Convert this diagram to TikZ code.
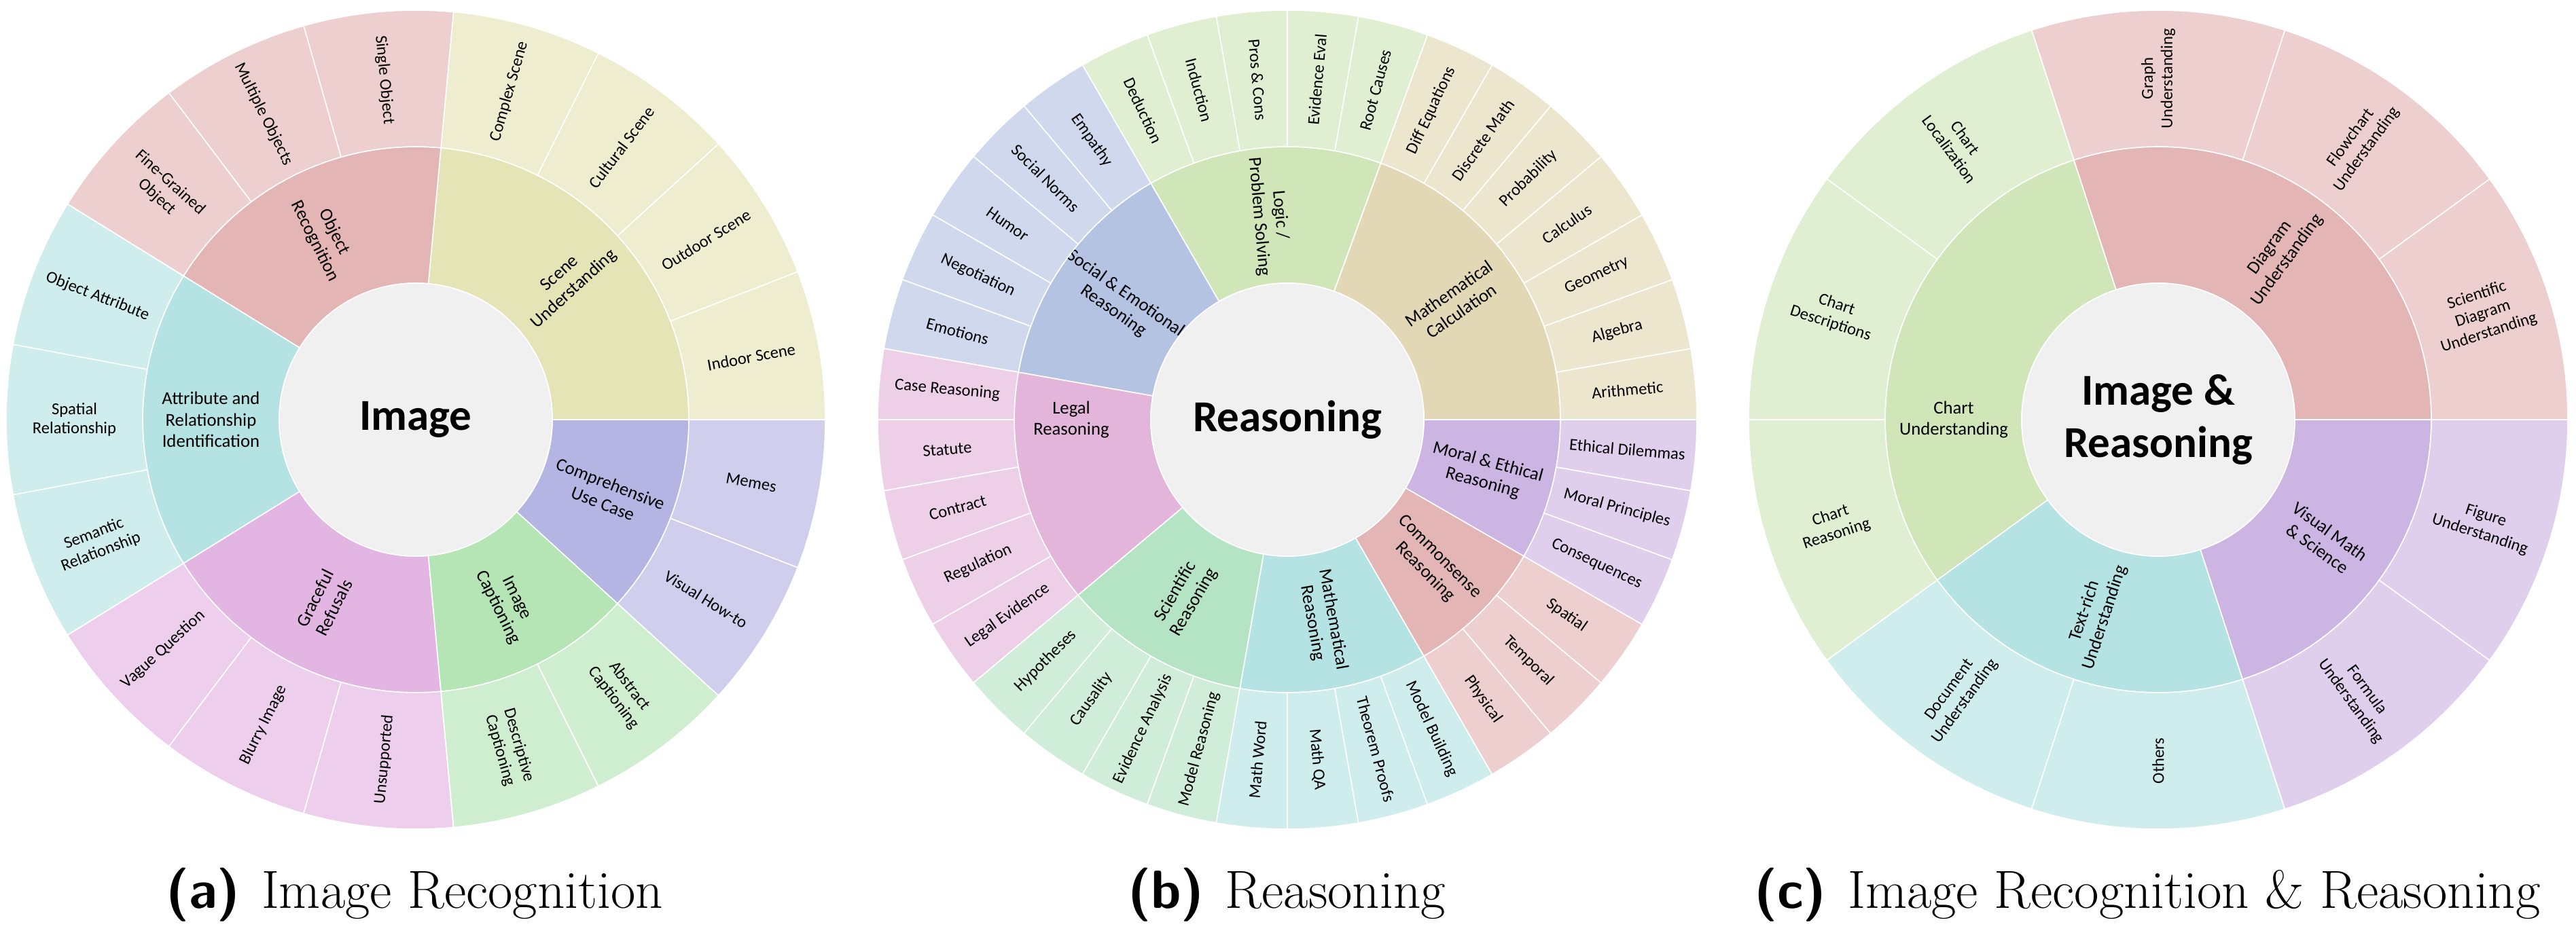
\documentclass[tikz,border=0pt]{standalone}
\usepackage{fontspec}
\usepackage{tikz}
\usepackage{xcolor}
\usetikzlibrary{positioning}
\newfontfamily\chartfont{Carlito}
\definecolor{SunCenter}{HTML}{F0F0F0}
\definecolor{ObjRose}{HTML}{E3B5B5}
\definecolor{SceneOlive}{HTML}{E5E4B7}
\definecolor{AttrTeal}{HTML}{B5E3E3}
\definecolor{RefusalOrchid}{HTML}{E3B5E3}
\definecolor{CaptionMint}{HTML}{B5E5B5}
\definecolor{UseCaseLilac}{HTML}{B5B5E3}
\definecolor{CalcSand}{HTML}{E3D8B5}
\definecolor{LogicSage}{HTML}{D0E6B8}
\definecolor{SocialBlue}{HTML}{B5C3E3}
\definecolor{LegalPink}{HTML}{E3B5DA}
\definecolor{ScienceMint}{HTML}{B5E4C5}
\definecolor{MoralViolet}{HTML}{CDB5E3}
\tikzset{
    % Sector outline
    segline/.style={
        draw=white,
        line width=0.45pt
    },
    % Label styles
    leaflabel/.style={
        font=\chartfont\fontsize{7}{8.2}\selectfont,
        align=center,
        inner sep=0pt
    },
    grouplabel/.style={
        font=\chartfont\fontsize{7.6}{8.9}\selectfont,
        align=center,
        inner sep=0pt
    },
    rootlabel/.style={
        font=\chartfont\bfseries\fontsize{18.5}{22}\selectfont,
        align=center,
        inner sep=0pt
    },
    subcaption/.style={
        font=\fontsize{22.5}{27}\selectfont,
        inner sep=0pt
    }
}
% annular sector: start, end, inner radius, outer radius, fill
\newcommand{\ringseg}[5]{%
    \filldraw[segline, fill=#5] (#1:#3) arc[start angle=#1, end angle=#2, radius=#3]
        -- (#2:#4) arc[start angle=#2, end angle=#1, radius=#4] -- cycle;}
% outer ring sector with radial label: name, start, end, colour, label
\newcommand{\leafseg}[5]{%
    \ringseg{#2}{#3}{4.02}{6.03}{#4!65!white}
    \pgfmathsetmacro{\segmid}{(#2+#3)/2}
    \pgfmathsetmacro{\segrot}{\segmid-180*(\segmid>90)-180*(\segmid>270)}
    \node[leaflabel, rotate=\segrot] (#1) at (\segmid:5.025) {#5};}
% middle ring sector with radial label: name, start, end, colour, label
\newcommand{\groupseg}[5]{%
    \ringseg{#2}{#3}{2.01}{4.02}{#4}
    \pgfmathsetmacro{\segmid}{(#2+#3)/2}
    \pgfmathsetmacro{\segrot}{\segmid-180*(\segmid>90)-180*(\segmid>270)}
    \node[grouplabel, rotate=\segrot] (#1) at (\segmid:3.015) {#5};}
\begin{document}
\begin{tikzpicture}
    \useasboundingbox (0,0) rectangle (37.92,13.73);

    % (a) Image
    \begin{scope}[shift={(6.12,7.55)}]
        \groupseg{a-scene}{0}{84.706}{SceneOlive}{Scene\\Understanding}
        \groupseg{a-objrec}{84.706}{148.235}{ObjRose}{Object\\Recognition}
        \groupseg{a-attr}{148.235}{211.765}{AttrTeal}{Attribute and\\Relationship\\Identification}
        \groupseg{a-refusal}{211.765}{275.294}{RefusalOrchid}{Graceful\\Refusals}
        \groupseg{a-caption}{275.294}{317.647}{CaptionMint}{Image\\Captioning}
        \groupseg{a-usecase}{317.647}{360}{UseCaseLilac}{Comprehensive\\Use Case}

        \leafseg{a-indoor}{0}{21.176}{SceneOlive}{Indoor Scene}
        \leafseg{a-outdoor}{21.176}{42.353}{SceneOlive}{Outdoor Scene}
        \leafseg{a-cultural}{42.353}{63.529}{SceneOlive}{Cultural Scene}
        \leafseg{a-complex}{63.529}{84.706}{SceneOlive}{Complex Scene}
        \leafseg{a-single}{84.706}{105.882}{ObjRose}{Single Object}
        \leafseg{a-multiple}{105.882}{127.059}{ObjRose}{Multiple Objects}
        \leafseg{a-finegrained}{127.059}{148.235}{ObjRose}{Fine-Grained\\Object}
        \leafseg{a-attribute}{148.235}{169.412}{AttrTeal}{Object Attribute}
        \leafseg{a-spatial}{169.412}{190.588}{AttrTeal}{Spatial\\Relationship}
        \leafseg{a-semantic}{190.588}{211.765}{AttrTeal}{Semantic\\Relationship}
        \leafseg{a-vague}{211.765}{232.941}{RefusalOrchid}{Vague Question}
        \leafseg{a-blurry}{232.941}{254.118}{RefusalOrchid}{Blurry Image}
        \leafseg{a-unsupported}{254.118}{275.294}{RefusalOrchid}{Unsupported}
        \leafseg{a-descriptive}{275.294}{296.471}{CaptionMint}{Descriptive\\Captioning}
        \leafseg{a-abstract}{296.471}{317.647}{CaptionMint}{Abstract\\Captioning}
        \leafseg{a-howto}{317.647}{338.824}{UseCaseLilac}{Visual How-to}
        \leafseg{a-memes}{338.824}{360}{UseCaseLilac}{Memes}

        \filldraw[segline, fill=SunCenter] (0,0) circle[radius=2.01];
        \node[rootlabel] (a-root) at (0,0) {Image};
    \end{scope}

    % (b) Reasoning
    \begin{scope}[shift={(18.95,7.55)}]
        \groupseg{b-calc}{0}{70}{CalcSand}{Mathematical\\Calculation}
        \groupseg{b-logic}{70}{120}{LogicSage}{Logic /\\Problem Solving}
        \groupseg{b-social}{120}{170}{SocialBlue}{Social \& Emotional\\Reasoning}
        \ringseg{170}{220}{2.01}{4.02}{LegalPink}
        \node[grouplabel] (b-legal) at (-3.18,0) {Legal\\Reasoning};
        \groupseg{b-science}{220}{260}{ScienceMint}{Scientific\\Reasoning}
        \groupseg{b-mathreas}{260}{300}{AttrTeal}{Mathematical\\Reasoning}
        \groupseg{b-common}{300}{330}{ObjRose}{Commonsense\\Reasoning}
        \groupseg{b-moral}{330}{360}{MoralViolet}{Moral \& Ethical\\Reasoning}

        \leafseg{b-arith}{0}{10}{CalcSand}{Arithmetic}
        \leafseg{b-algebra}{10}{20}{CalcSand}{Algebra}
        \leafseg{b-geometry}{20}{30}{CalcSand}{Geometry}
        \leafseg{b-calculus}{30}{40}{CalcSand}{Calculus}
        \leafseg{b-prob}{40}{50}{CalcSand}{Probability}
        \leafseg{b-discrete}{50}{60}{CalcSand}{Discrete Math}
        \leafseg{b-diffeq}{60}{70}{CalcSand}{Diff Equations}
        \leafseg{b-rootcause}{70}{80}{LogicSage}{Root Causes}
        \leafseg{b-evaleval}{80}{90}{LogicSage}{Evidence Eval}
        \leafseg{b-proscons}{90}{100}{LogicSage}{Pros \& Cons}
        \leafseg{b-induction}{100}{110}{LogicSage}{Induction}
        \leafseg{b-deduction}{110}{120}{LogicSage}{Deduction}
        \leafseg{b-empathy}{120}{130}{SocialBlue}{Empathy}
        \leafseg{b-norms}{130}{140}{SocialBlue}{Social Norms}
        \leafseg{b-humor}{140}{150}{SocialBlue}{Humor}
        \leafseg{b-negotiation}{150}{160}{SocialBlue}{Negotiation}
        \leafseg{b-emotions}{160}{170}{SocialBlue}{Emotions}
        \leafseg{b-case}{170}{180}{LegalPink}{Case Reasoning}
        \leafseg{b-statute}{180}{190}{LegalPink}{Statute}
        \leafseg{b-contract}{190}{200}{LegalPink}{Contract}
        \leafseg{b-regulation}{200}{210}{LegalPink}{Regulation}
        \leafseg{b-legalev}{210}{220}{LegalPink}{Legal Evidence}
        \leafseg{b-hypo}{220}{230}{ScienceMint}{Hypotheses}
        \leafseg{b-causality}{230}{240}{ScienceMint}{Causality}
        \leafseg{b-evanalysis}{240}{250}{ScienceMint}{Evidence Analysis}
        \leafseg{b-modelreas}{250}{260}{ScienceMint}{Model Reasoning}
        \leafseg{b-mathword}{260}{270}{AttrTeal}{Math Word}
        \leafseg{b-mathqa}{270}{280}{AttrTeal}{Math QA}
        \leafseg{b-theorem}{280}{290}{AttrTeal}{Theorem Proofs}
        \leafseg{b-modelbuild}{290}{300}{AttrTeal}{Model Building}
        \leafseg{b-physical}{300}{310}{ObjRose}{Physical}
        \leafseg{b-temporal}{310}{320}{ObjRose}{Temporal}
        \leafseg{b-spatial}{320}{330}{ObjRose}{Spatial}
        \leafseg{b-conseq}{330}{340}{MoralViolet}{Consequences}
        \leafseg{b-principles}{340}{350}{MoralViolet}{Moral Principles}
        \leafseg{b-dilemmas}{350}{360}{MoralViolet}{Ethical Dilemmas}

        \filldraw[segline, fill=SunCenter] (0,0) circle[radius=2.01];
        \node[rootlabel] (b-root) at (0,0) {Reasoning};
    \end{scope}

    % (c) Image & Reasoning
    \begin{scope}[shift={(31.77,7.55)}]
        \groupseg{c-diagram}{0}{108}{ObjRose}{Diagram\\Understanding}
        \ringseg{108}{216}{2.01}{4.02}{LogicSage}
        \node[grouplabel] (c-chart) at (-3.01,0) {Chart\\Understanding};
        \groupseg{c-textrich}{216}{288}{AttrTeal}{Text-rich\\Understanding}
        \groupseg{c-vismath}{288}{360}{MoralViolet}{Visual Math\\\& Science}

        \leafseg{c-scidiag}{0}{36}{ObjRose}{Scientific\\Diagram\\Understanding}
        \leafseg{c-flowchart}{36}{72}{ObjRose}{Flowchart\\Understanding}
        \leafseg{c-graph}{72}{108}{ObjRose}{Graph\\Understanding}
        \leafseg{c-chartloc}{108}{144}{LogicSage}{Chart\\Localization}
        \leafseg{c-chartdesc}{144}{180}{LogicSage}{Chart\\Descriptions}
        \leafseg{c-chartreas}{180}{216}{LogicSage}{Chart\\Reasoning}
        \leafseg{c-document}{216}{252}{AttrTeal}{Document\\Understanding}
        \leafseg{c-others}{252}{288}{AttrTeal}{Others}
        \leafseg{c-formula}{288}{324}{MoralViolet}{Formula\\Understanding}
        \leafseg{c-figure}{324}{360}{MoralViolet}{Figure\\Understanding}

        \filldraw[segline, fill=SunCenter] (0,0) circle[radius=2.01];
        \node[rootlabel] (c-root) at (0,0) {Image \&\\Reasoning};
    \end{scope}

    % Sub-captions
    \node[subcaption, anchor=base] (cap-a) at (6.10,0.36) {\textsf{\bfseries (a)}\hspace{0.4em}Image Recognition};
    \node[subcaption, anchor=base] (cap-b) at (18.94,0.36) {\textsf{\bfseries (b)}\hspace{0.4em}Reasoning};
    \node[subcaption, anchor=base] (cap-c) at (31.61,0.36) {\textsf{\bfseries (c)}\hspace{0.4em}Image Recognition \& Reasoning};
\end{tikzpicture}
\end{document}
